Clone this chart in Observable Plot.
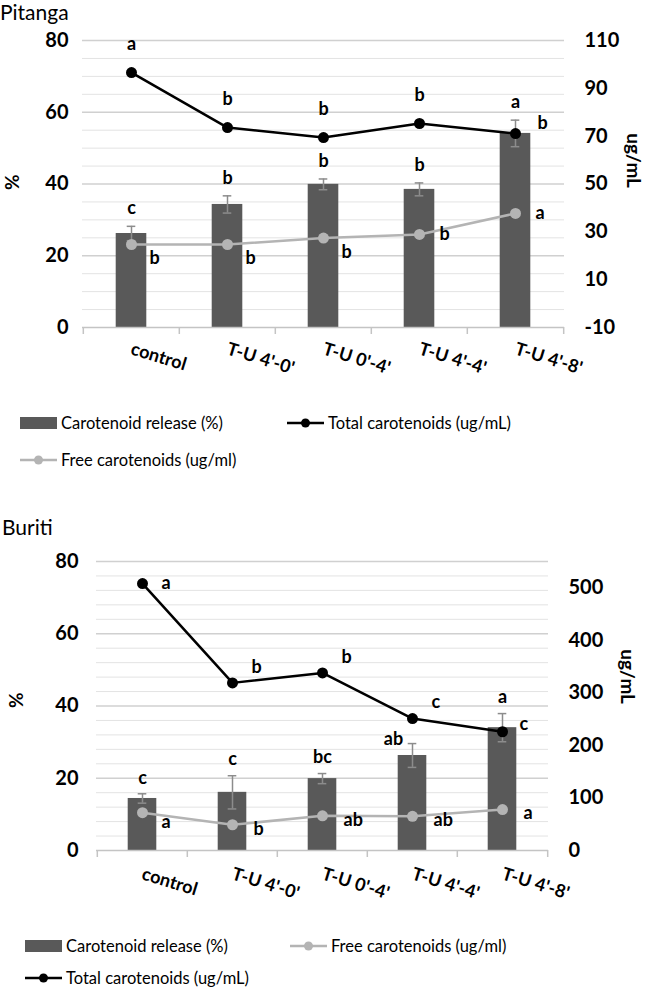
<!DOCTYPE html>
<html><head><meta charset="utf-8">
<script src="https://cdn.jsdelivr.net/npm/d3@7"></script>
<script src="https://cdn.jsdelivr.net/npm/@observablehq/plot@0.6"></script>
<style>
body{margin:0;background:#fff;font-family:Lato,"Open Sans",sans-serif;color:#000;}
#page{position:relative;width:646px;height:988px;overflow:hidden;background:#fff;}
.abs{position:absolute;}
.title{font-size:21px;line-height:24px;white-space:nowrap;}
.leg{display:flex;align-items:center;font-size:16.5px;line-height:20px;white-space:nowrap;height:20px;}
.leg svg{margin-right:4px;}
</style></head><body><div id="page"></div>
<script>
const categories = ["control", "T-U 4'-0'", "T-U 0'-4'", "T-U 4'-4'", "T-U 4'-8'"];

// Pitanga
const pitangaRelease = [26.2, 34.3, 39.9, 38.5, 54.1];
const pitangaReleaseErr = [2.0, 2.4, 1.5, 1.8, 3.7];
const pitangaTotal = [96.6, 73.6, 69.4, 75.3, 71.1];
const pitangaFree = [24.7, 24.7, 27.4, 28.9, 37.7];
const pitangaReleaseLetters = ["c", "b", "b", "b", "a"];
const pitangaTotalLetters = ["a", "b", "b", "b", "b"];
const pitangaFreeLetters = ["b", "b", "b", "b", "a"];
const pitangaLeftTicks = [0, 20, 40, 60, 80];
const pitangaRightTicks = [-10, 10, 30, 50, 70, 90, 110];
const pitangaRightDomain = [-10, 110];
const pitangaGrid = [5, 10, 15, 20, 25, 30, 35, 40, 45, 50, 55, 60, 65, 70, 75, 80];

// Buriti
const buritiRelease = [14.4, 16.1, 19.9, 26.3, 34.0];
const buritiReleaseErr = [1.3, 4.6, 1.4, 3.3, 3.9];
const buritiTotal = [508, 319, 338, 251, 226];
const buritiFree = [72, 49, 66, 65, 78];
const buritiReleaseLetters = ["c", "c", "bc", "ab", "a"];
const buritiTotalLetters = ["a", "b", "b", "c", "c"];
const buritiFreeLetters = ["a", "b", "ab", "ab", "a"];
const buritiLeftTicks = [0, 20, 40, 60, 80];
const buritiRightTicks = [0, 100, 200, 300, 400, 500];
const buritiRightDomain = [0, 550];
const buritiGrid = [4, 8, 12, 16, 20, 24, 28, 32, 36, 40, 44, 48, 52, 56, 60, 64, 68, 72, 76, 80];

const W = 646;
const BAR = "#595959", ERR = "#8c8c8c", FREE = "#b4b4b4", TOTAL = "#000000";
const page = document.getElementById("page");

function chart(cfg) {
  const m = cfg.margin;
  const toLeft = d3.scaleLinear(cfg.rightDomain, [0, 80]);
  const rows = categories.map((c, i) => ({
    cat: c, i,
    release: cfg.release[i],
    lo: cfg.release[i] - cfg.err[i],
    hi: cfg.release[i] + cfg.err[i],
    total: toLeft(cfg.total[i]),
    free: toLeft(cfg.free[i]),
    relL: cfg.relL[i], totL: cfg.totL[i], freeL: cfg.freeL[i]
  }));
  const bw = (W - m.left - m.right) / categories.length;
  const inset = (bw - cfg.barWidth) / 2;
  const capInset = (bw - 9) / 2;
  const txt = {fontSize: 18, fontWeight: "bold", fill: "#000"};
  const labelMarks = cfg.labels(rows, txt);
  return Plot.plot({
    width: W, height: cfg.height,
    marginTop: m.top, marginBottom: m.bottom, marginLeft: m.left, marginRight: m.right,
    style: {fontFamily: "Lato, 'Open Sans', sans-serif", color: "#000", background: "transparent", overflow: "visible"},
    x: {domain: categories, padding: 0, axis: null},
    y: {domain: [0, 80], axis: null},
    marks: [
      Plot.ruleY(cfg.grid.filter(v => v % 20 !== 0), {stroke: "#e3e3e3", strokeWidth: 1}),
      Plot.ruleY(cfg.grid.filter(v => v % 20 === 0), {stroke: "#d0d0d0", strokeWidth: 1.3}),
      Plot.barY(rows, {x: "cat", y: "release", fill: BAR, insetLeft: inset, insetRight: inset}),
      Plot.ruleX(rows, {x: "cat", y1: "lo", y2: "hi", stroke: ERR, strokeWidth: 1.5}),
      Plot.tickY(rows, {x: "cat", y: "lo", stroke: ERR, strokeWidth: 1.5, insetLeft: capInset, insetRight: capInset}),
      Plot.tickY(rows, {x: "cat", y: "hi", stroke: ERR, strokeWidth: 1.5, insetLeft: capInset, insetRight: capInset}),
      Plot.ruleY([0], {stroke: "#c4c4c4", strokeWidth: 1.5}),
      Plot.ruleX(categories, {x: d => d, dx: -bw / 2, y1: 0, y2: 0, insetBottom: -7, stroke: "#c4c4c4", strokeWidth: 1.5}),
      Plot.ruleX(categories.slice(-1), {x: d => d, dx: bw / 2, y1: 0, y2: 0, insetBottom: -7, stroke: "#c4c4c4", strokeWidth: 1.5}),
      Plot.line(rows, {x: "cat", y: "free", stroke: FREE, strokeWidth: 2.5}),
      Plot.dot(rows, {x: "cat", y: "free", r: 5.5, fill: FREE}),
      Plot.line(rows, {x: "cat", y: "total", stroke: TOTAL, strokeWidth: 2.5}),
      Plot.dot(rows, {x: "cat", y: "total", r: 5.5, fill: TOTAL}),
      ...labelMarks,
      Plot.axisY(cfg.leftTicks, {anchor: "left", tickSize: 0, tickPadding: cfg.leftPad, fontSize: 20, fontWeight: "bold", label: null}),
      Plot.axisY(cfg.rightTicks.map(v => toLeft(v)), {anchor: "right", tickSize: 0, tickPadding: cfg.rightPad, fontSize: 20, fontWeight: "bold", label: null,
        tickFormat: v => String(Math.round(toLeft.invert(v)))}),
      Plot.axisX({tickRotate: 17, tickSize: 0, tickPadding: cfg.xPad, fontSize: 18, fontWeight: "bold", label: null, textAnchor: "start"}),
      Plot.text(["%"], {frameAnchor: "left", dx: cfg.pctDx, dy: cfg.pctDy, rotate: -90, text: d => d, fontSize: 19, fontWeight: "bold"}),
      Plot.text(["ug/mL"], {frameAnchor: "right", dx: cfg.unitDx, dy: cfg.unitDy, rotate: 90, text: d => d, fontSize: 19, fontWeight: "bold"})
    ]
  });
}

const pick = (rows, idx) => rows.filter(d => idx.includes(d.i));

const pitangaChart = chart({
  height: 395, margin: {top: 40, bottom: 68, left: 82, right: 82}, barWidth: 31,
  release: pitangaRelease, err: pitangaReleaseErr, total: pitangaTotal, free: pitangaFree,
  relL: pitangaReleaseLetters, totL: pitangaTotalLetters, freeL: pitangaFreeLetters,
  leftTicks: pitangaLeftTicks, rightTicks: pitangaRightTicks, rightDomain: pitangaRightDomain, grid: pitangaGrid,
  leftPad: 14, rightPad: 20, xPad: 21, pctDx: -70, pctDy: 6, unitDx: 69, unitDy: 4,
  labels: (rows, t) => [
    Plot.text(rows, {x: "cat", y: "hi", text: "relL", dy: -18, ...t}),
    Plot.text(pick(rows, [0, 1, 2, 3]), {x: "cat", y: "total", text: "totL", dy: -28, ...t}),
    Plot.text(pick(rows, [4]), {x: "cat", y: "total", text: "totL", dx: 22, dy: -10, textAnchor: "start", ...t}),
    Plot.text(pick(rows, [0, 1, 2]), {x: "cat", y: "free", text: "freeL", dx: 18, dy: 14, textAnchor: "start", ...t}),
    Plot.text(pick(rows, [3, 4]), {x: "cat", y: "free", text: "freeL", dx: 20, dy: 0, textAnchor: "start", ...t})
  ]
});
pitangaChart.style.position = "absolute"; pitangaChart.style.left = "0px"; pitangaChart.style.top = "0px";
page.appendChild(pitangaChart);

const buritiChart = chart({
  height: 400, margin: {top: 61, bottom: 50, left: 96, right: 98}, barWidth: 29,
  release: buritiRelease, err: buritiReleaseErr, total: buritiTotal, free: buritiFree,
  relL: buritiReleaseLetters, totL: buritiTotalLetters, freeL: buritiFreeLetters,
  leftTicks: buritiLeftTicks, rightTicks: buritiRightTicks, rightDomain: buritiRightDomain, grid: buritiGrid,
  leftPad: 18, rightPad: 20, xPad: 23, pctDx: -80, pctDy: 2, unitDx: 79, unitDy: -2,
  labels: (rows, t) => [
    Plot.text(pick(rows, [0, 1, 2, 4]), {x: "cat", y: "hi", text: "relL", dy: -16, ...t}),
    Plot.text(pick(rows, [3]), {x: "cat", y: "hi", text: "relL", dx: -19, dy: -4, ...t}),
    Plot.text(pick(rows, [0]), {x: "cat", y: "total", text: "totL", dx: 19, dy: 0, textAnchor: "start", ...t}),
    Plot.text(pick(rows, [1, 2, 3]), {x: "cat", y: "total", text: "totL", dx: 19, dy: -16, textAnchor: "start", ...t}),
    Plot.text(pick(rows, [4]), {x: "cat", y: "total", text: "totL", dx: 17, dy: -8, textAnchor: "start", ...t}),
    Plot.text(pick(rows, [0]), {x: "cat", y: "free", text: "freeL", dx: 19, dy: 10, textAnchor: "start", ...t}),
    Plot.text(pick(rows, [1, 2, 3, 4]), {x: "cat", y: "free", text: "freeL", dx: 21, dy: 4, textAnchor: "start", ...t})
  ]
});
buritiChart.style.position = "absolute"; buritiChart.style.left = "0px"; buritiChart.style.top = "500px";
page.appendChild(buritiChart);

// titles
function addDiv(cls, text, left, topPx) {
  const d = document.createElement("div");
  d.className = "abs " + cls; d.textContent = text;
  d.style.left = left + "px"; d.style.top = topPx + "px";
  page.appendChild(d); return d;
}
addDiv("title", "Pitanga", 0, 0);
addDiv("title", "Buriti", 2, 515);

// legends
const legendNames = {release: "Carotenoid release (%)", total: "Total carotenoids (ug/mL)", free: "Free carotenoids (ug/ml)"};
function swatch(kind) {
  const ns = "http://www.w3.org/2000/svg";
  const s = document.createElementNS(ns, "svg");
  s.setAttribute("width", 37); s.setAttribute("height", 14);
  if (kind === "release") {
    const r = document.createElementNS(ns, "rect");
    r.setAttribute("x", 0); r.setAttribute("y", 1); r.setAttribute("width", 37); r.setAttribute("height", 12); r.setAttribute("fill", BAR);
    s.appendChild(r);
  } else {
    const col = kind === "total" ? TOTAL : FREE;
    const l = document.createElementNS(ns, "line");
    l.setAttribute("x1", 0); l.setAttribute("x2", 37); l.setAttribute("y1", 7); l.setAttribute("y2", 7);
    l.setAttribute("stroke", col); l.setAttribute("stroke-width", 2.5);
    const c = document.createElementNS(ns, "circle");
    c.setAttribute("cx", 18.5); c.setAttribute("cy", 7); c.setAttribute("r", 4.5); c.setAttribute("fill", col);
    s.appendChild(l); s.appendChild(c);
  }
  return s;
}
function legendItem(kind, left, centerY) {
  const d = document.createElement("div");
  d.className = "abs leg";
  d.style.left = left + "px"; d.style.top = (centerY - 10) + "px";
  d.appendChild(swatch(kind));
  const sp = document.createElement("span"); sp.textContent = legendNames[kind];
  d.appendChild(sp);
  page.appendChild(d);
}
legendItem("release", 20, 423);
legendItem("total", 287, 423);
legendItem("free", 20, 460);
legendItem("release", 25, 946);
legendItem("free", 290, 946);
legendItem("total", 25, 978);
</script>
</body></html>
